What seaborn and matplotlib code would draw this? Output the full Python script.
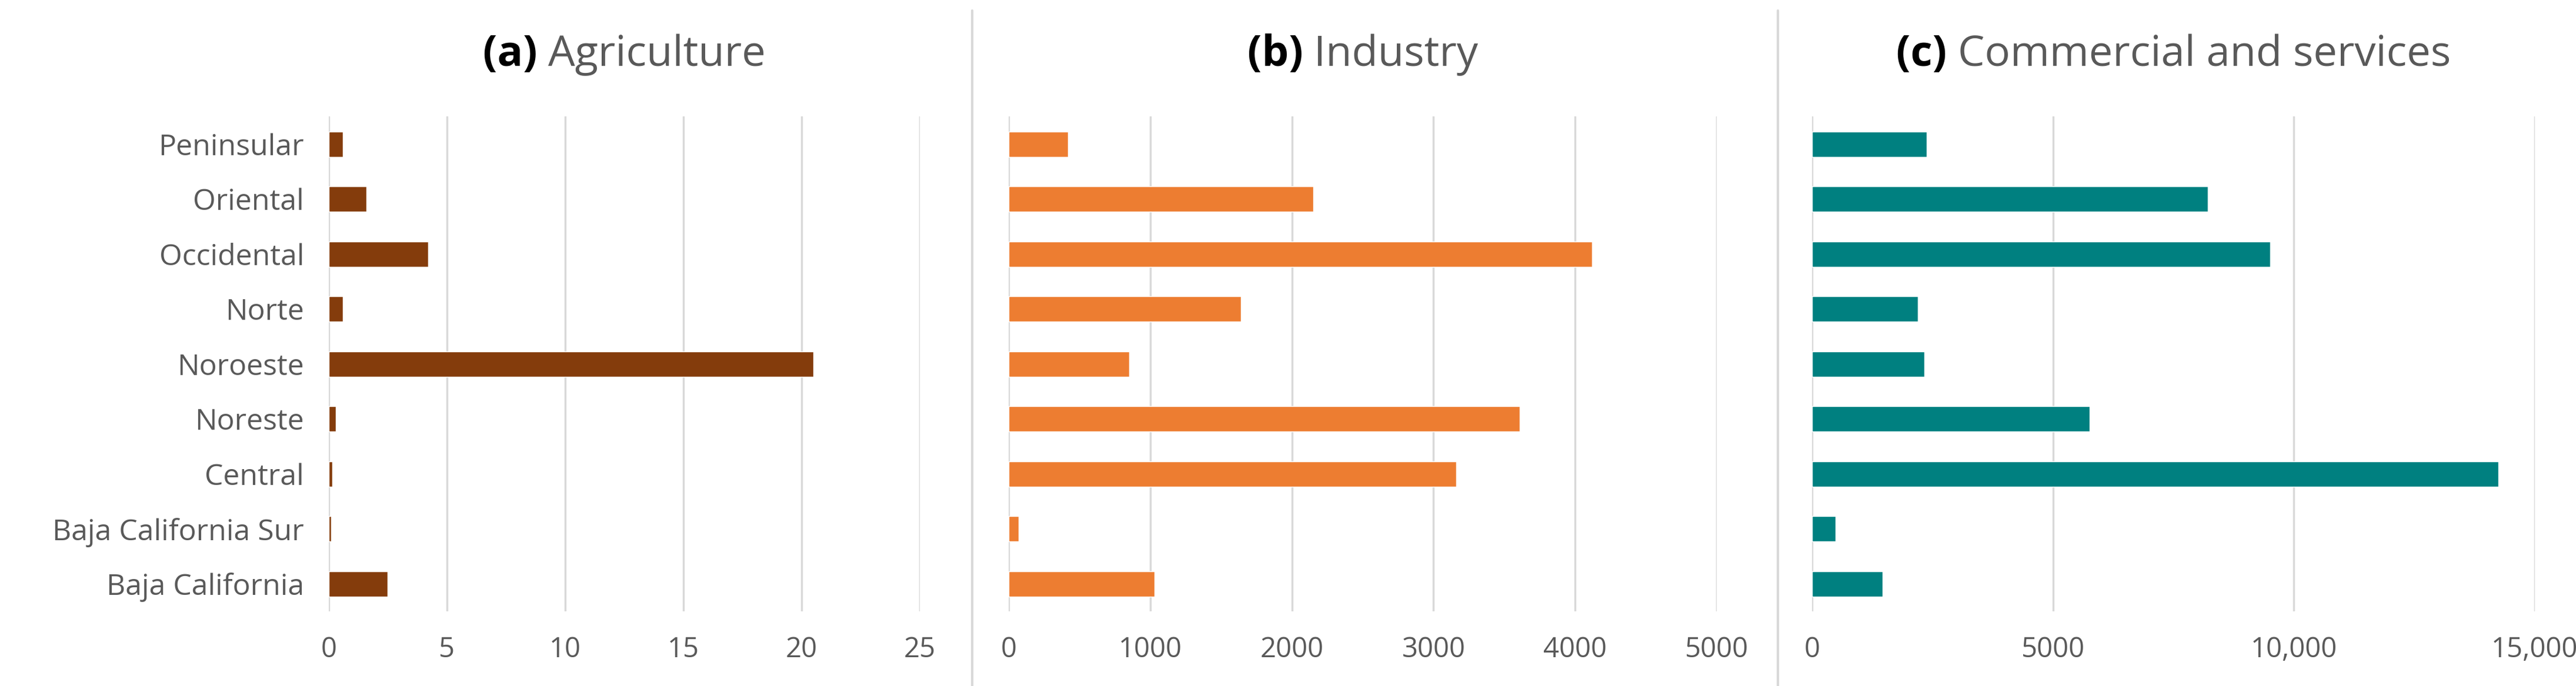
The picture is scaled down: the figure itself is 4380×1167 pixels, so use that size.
import matplotlib
matplotlib.use("Agg")
import matplotlib.pyplot as plt
import seaborn as sns
import pandas as pd
from matplotlib.ticker import FuncFormatter
from matplotlib.lines import Line2D

sns.set_theme(style="white")
plt.rcParams['font.family'] = ['Liberation Sans Narrow', 'Open Sans', 'DejaVu Sans']

regions = ["Peninsular", "Oriental", "Occidental", "Norte", "Noroeste",
           "Noreste", "Central", "Baja California Sur", "Baja California"]
agriculture = [0.6, 1.6, 4.2, 0.6, 20.5, 0.3, 0.15, 0.1, 2.5]
industry = [420, 2150, 4120, 1640, 850, 3610, 3160, 70, 1030]
commercial = [2380, 8210, 9510, 2200, 2330, 5760, 14240, 490, 1470]

panels = [
    ("(a)", "Agriculture", agriculture, "#843C0C", [0, 5, 10, 15, 20, 25], (0, 25), False),
    ("(b)", "Industry", industry, "#ED7D31", [0, 1000, 2000, 3000, 4000, 5000], (0, 5000), False),
    ("(c)", "Commercial and services", commercial, "#008080", [0, 5000, 10000, 15000], (0, 15000), True),
]
positions = [(0.1276, 0.2295), (0.3916, 0.2748), (0.7034, 0.2806)]

fig = plt.figure(figsize=(43.8, 11.67), dpi=100)
gray = "#595959"
for i, ((lab, name, vals, col, ticks, lim, comma), (l, w)) in enumerate(zip(panels, positions)):
    ax = fig.add_axes([l, 0.109, w, 0.721])
    df = pd.DataFrame({"region": regions, "value": vals})
    sns.barplot(data=df, y="region", x="value", order=regions, color=col,
                width=0.46, ax=ax, saturation=1)
    ax.set_xlim(*lim)
    ax.set_xticks(ticks)
    if comma:
        ax.xaxis.set_major_formatter(FuncFormatter(lambda v, p: f"{int(v):,}" if v >= 10000 else f"{int(v)}"))
    ax.grid(axis="x", color="#D9D9D9", linewidth=2.5)
    ax.set_axisbelow(True)
    for s in ax.spines.values():
        s.set_visible(False)
    ax.set_xlabel(""); ax.set_ylabel("")
    ax.tick_params(axis="x", labelsize=34, labelcolor=gray, length=0, pad=30)
    ax.tick_params(axis="y", labelsize=36, labelcolor=gray, length=0, pad=30)
    if i > 0:
        ax.set_yticklabels([])
    cx = l + w / 2
    t1 = fig.text(cx, 0.92, lab + " ", fontsize=52, fontweight="bold", color="black",
                  ha="right", va="center")
    fig.text(cx, 0.92, name, fontsize=52, color=gray, ha="left", va="center")

# Shift titles so each "(x) Name" is centered
fig.canvas.draw()
r = fig.canvas.get_renderer()
texts = fig.texts
for j in range(0, len(texts), 2):
    a, b = texts[j], texts[j + 1]
    wa = a.get_window_extent(r).width / fig.bbox.width
    wb = b.get_window_extent(r).width / fig.bbox.width
    x0 = a.get_position()[0]
    shift = (wa - wb) / 2
    a.set_x(x0 + shift); b.set_x(x0 + shift)

for xf in [1653 / 4380, 3023 / 4380]:
    fig.add_artist(Line2D([xf, xf], [0.0, 0.985], transform=fig.transFigure,
                          color="#D9D9D9", linewidth=3))

fig.savefig("out.png", dpi=100, facecolor="white")
